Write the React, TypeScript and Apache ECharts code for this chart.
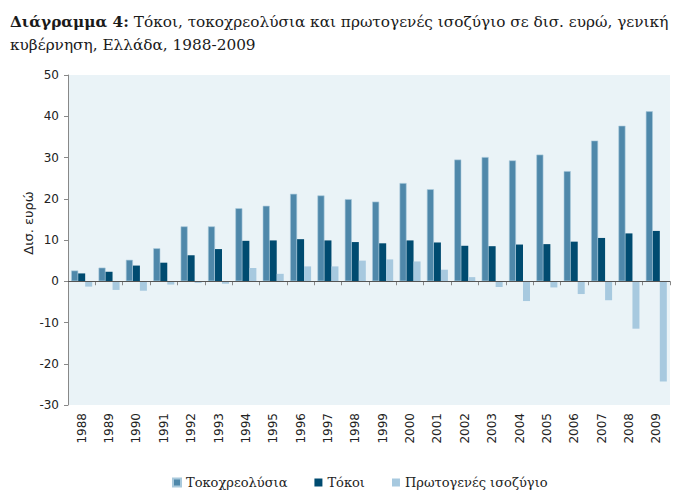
import React, { useEffect, useRef } from "react";
import * as echarts from "echarts";

const years = ["1988","1989","1990","1991","1992","1993","1994","1995","1996","1997","1998","1999","2000","2001","2002","2003","2004","2005","2006","2007","2008","2009"];
const debtService = [2.6,3.3,5.2,8.0,13.3,13.3,17.7,18.3,21.2,20.8,19.9,19.3,23.8,22.3,29.5,30.1,29.3,30.7,26.7,34.1,37.7,41.2];
const interest = [1.9,2.3,3.8,4.5,6.3,7.8,9.8,9.9,10.2,9.9,9.5,9.2,9.9,9.4,8.6,8.5,8.9,9.0,9.6,10.5,11.6,12.2];
const primaryBalance = [-1.3,-2.1,-2.3,-0.8,-0.4,-0.6,3.2,1.8,3.6,3.6,5.0,5.3,4.8,2.8,1.0,-1.4,-4.8,-1.5,-3.1,-4.6,-11.5,-24.3];
const seriesNames = ["Τοκοχρεολύσια", "Τόκοι", "Πρωτογενές ισοζύγιο"];
const colors = ["#4f88aa", "#004b70", "#a7c9df"];

export default function App() {
  const ref = useRef<HTMLDivElement>(null);
  useEffect(() => {
    const chart = echarts.init(ref.current!, null, { renderer: "svg" });
    const axisFont = "DejaVu Sans";
    const serif = "DejaVu Serif";
    chart.setOption({
      animation: false,
      backgroundColor: "#ffffff",
      title: {
        left: 5,
        top: 5,
        text: "{b|Διάγραμμα 4:} Τόκοι, τοκοχρεολύσια και πρωτογενές ισοζύγιο σε δισ. ευρώ, γενική\nκυβέρνηση, Ελλάδα, 1988-2009",
        textStyle: {
          fontFamily: serif,
          fontSize: 15.3,
          fontWeight: "normal",
          color: "#1a1a1a",
          lineHeight: 23,
          rich: {
            b: { fontFamily: serif, fontSize: 15.3, fontWeight: "bold", color: "#1a1a1a", lineHeight: 23 },
          },
        },
      },
      grid: { left: 68, right: 12, top: 75, bottom: 88, show: true, backgroundColor: "#eaf3f7", borderWidth: 0 },
      legend: {
        top: 476,
        left: 172,
        padding: 0,
        itemWidth: 8,
        itemHeight: 8,
        itemGap: 27,
        icon: "rect",
        textStyle: { fontFamily: serif, fontSize: 13, color: "#222" },
        data: seriesNames,
      },
      graphic: [
        {
          type: "text",
          x: 22,
          y: 223,
          rotation: Math.PI / 2,
          style: {
            text: "Δισ. ευρώ",
            fontFamily: axisFont,
            fontSize: 13,
            fill: "#222",
            align: "center",
            verticalAlign: "top",
          },
        },
      ],
      xAxis: {
        type: "category",
        data: years,
        axisLine: { lineStyle: { color: "#999", width: 1 } },
        axisTick: { show: true, length: 4, lineStyle: { color: "#888" } },
        axisLabel: { rotate: 90, fontFamily: axisFont, fontSize: 12, color: "#222", margin: 8 },
      },
      yAxis: {
        type: "value",
        min: -30,
        max: 50,
        interval: 10,
        axisLine: { show: true, lineStyle: { color: "#888" } },
        axisTick: { show: true, length: 4, lineStyle: { color: "#888" } },
        splitLine: { show: false },
        axisLabel: { fontFamily: axisFont, fontSize: 12, color: "#222", margin: 9 },
      },
      series: [
        {
          name: seriesNames[0],
          type: "bar",
          data: debtService,
          barWidth: 7,
          barGap: "0%",
          itemStyle: { color: colors[0], borderColor: "#a9c9dc", borderWidth: 0.6 },
          markLine: {
            silent: true,
            symbol: "none",
            label: { show: false },
            lineStyle: { color: "#555", width: 1, type: "solid" },
            data: [{ yAxis: 0 }],
          },
        },
        {
          name: seriesNames[1],
          type: "bar",
          data: interest,
          barWidth: 7,
          barGap: "0%",
          itemStyle: { color: colors[1] },
        },
        {
          name: seriesNames[2],
          type: "bar",
          data: primaryBalance,
          barWidth: 7,
          barGap: "0%",
          itemStyle: { color: colors[2] },
        },
      ],
    });
    return () => chart.dispose();
  }, []);
  return <div ref={ref} style={{ width: 682, height: 493, position: "absolute", left: 0, top: 0 }} />;
}
